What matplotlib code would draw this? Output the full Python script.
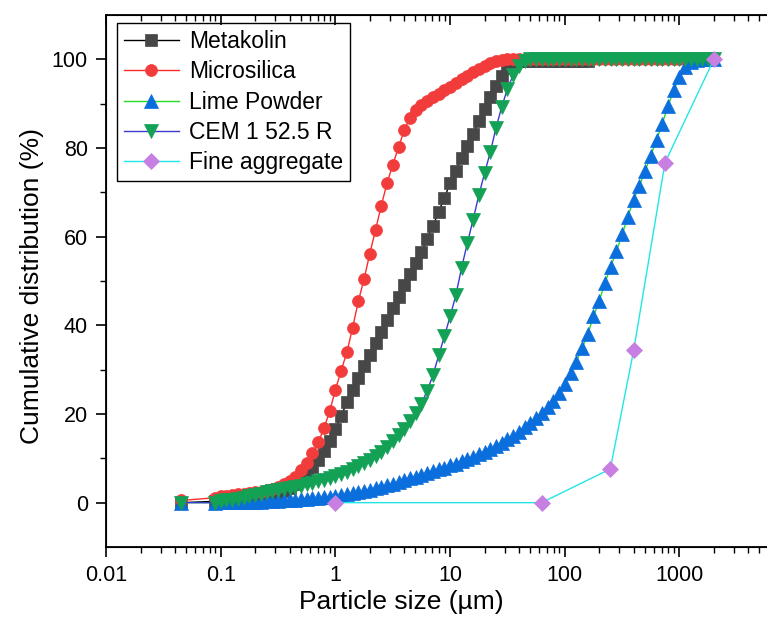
import matplotlib

matplotlib.use("Agg")
import matplotlib.pyplot as plt
from matplotlib.ticker import FixedLocator, LogLocator, NullFormatter

plt.rcParams["font.family"] = ["Liberation Sans", "DejaVu Sans"]

# size classes of the laser diffraction run (um), first one is the lone point
size_um = [0.045,
           0.089, 0.100, 0.112, 0.126, 0.142, 0.159, 0.178, 0.200, 0.224, 0.252,
           0.283, 0.317, 0.356, 0.399, 0.448, 0.502, 0.564, 0.632, 0.710, 0.796, 0.893,
           1.002, 1.125, 1.262, 1.416, 1.589, 1.783, 2.000, 2.244, 2.518, 2.825,
           3.170, 3.557, 3.991, 4.477, 5.024, 5.637, 6.325, 7.096, 7.962, 8.934,
           10.02, 11.25, 12.62, 14.16, 15.89, 17.83, 20.00, 22.44, 25.18, 28.25,
           31.70, 35.57, 39.91, 44.77, 50.24, 56.37, 63.25, 70.96, 79.62, 89.34,
           100.2, 112.5, 126.2, 141.6, 158.9, 178.3, 200.0, 224.4, 251.8, 282.5,
           317.0, 355.7, 399.1, 447.7, 502.4, 563.7, 632.5, 709.6, 796.2, 893.4,
           1002, 1125, 1262, 1416, 1589, 1783, 2000]

metakolin = [0.0,
             0.3, 0.4, 0.5, 0.6, 0.7, 0.8, 0.9, 1.0, 1.2, 1.4,
             1.7, 2.1, 2.6, 3.3, 4.2, 5.3, 6.6, 8.0, 9.6, 11.6, 14.0,
             16.6, 19.6, 22.6, 25.4, 28.1, 30.8, 33.4, 36.0, 38.6, 41.2,
             43.8, 46.4, 49.0, 51.6, 54.0, 56.6, 59.4, 62.4, 65.6, 68.8,
             72.0, 74.9, 77.7, 80.5, 83.2, 86.0, 88.8, 91.6, 94.0, 96.2,
             98.0, 99.2, 99.6, 99.6, 99.6, 99.6, 99.6, 99.6, 99.6, 99.6,
             99.6, 99.6, 99.6, 99.6, 99.6]

microsilica = [0.5,
               1.1, 1.4, 1.6, 1.8, 1.9, 2.0, 2.1, 2.3, 2.5, 2.8,
               3.1, 3.6, 4.2, 5.0, 5.9, 7.3, 8.9, 11.3, 13.6, 16.8, 20.6,
               25.5, 29.8, 34.0, 39.5, 45.5, 50.5, 56.2, 61.6, 67.0, 72.1,
               76.2, 80.2, 84.0, 86.8, 88.6, 89.7, 90.6, 91.4, 92.2, 93.0,
               93.8, 94.7, 95.5, 96.3, 97.1, 97.9, 98.6, 99.2, 99.6, 99.9,
               100, 100, 100, 100, 100, 100, 100, 100, 100, 100,
               100, 100, 100, 100, 100, 100, 100, 100, 100, 100,
               100, 100, 100, 100, 100, 100, 100, 100, 100, 100,
               100, 100, 100, 100, 100, 100, 100]

lime_powder = [0.0,
               0.0, 0.05, 0.07, 0.1, 0.12, 0.15, 0.18, 0.22, 0.26, 0.31,
               0.37, 0.43, 0.5, 0.57, 0.65, 0.75, 0.85, 0.95, 1.05, 1.2, 1.35,
               1.5, 1.7, 1.9, 2.1, 2.3, 2.6, 2.9, 3.2, 3.5, 3.9,
               4.3, 4.7, 5.1, 5.5, 5.9, 6.3, 6.7, 7.1, 7.5, 7.9,
               8.4, 8.8, 9.3, 9.8, 10.3, 10.9, 11.5, 12.1, 12.8, 13.5,
               14.3, 15.1, 16.0, 17.0, 18.0, 19.1, 20.3, 21.6, 23.0, 24.7,
               26.8, 29.2, 31.8, 34.8, 38.0, 42.0, 45.5, 49.5, 53.2, 56.7,
               60.5, 64.5, 68.3, 71.5, 74.8, 78.3, 81.8, 85.5, 89.5, 93.0,
               96.0, 98.2, 99.4, 99.9, 100, 100, 100]

cem = [0.0,
       0.0, 0.3, 0.5, 0.7, 0.9, 1.1, 1.4, 1.7, 2.0, 2.3,
       2.6, 2.9, 3.1, 3.3, 3.6, 3.8, 4.2, 4.5, 4.9, 5.2, 5.6,
       6.0, 6.5, 7.0, 7.6, 8.2, 8.9, 9.7, 10.5, 11.5, 12.6,
       13.9, 15.2, 16.7, 18.4, 20.2, 22.3, 25.3, 28.7, 33.2, 37.5,
       42.0, 46.8, 53.0, 58.5, 63.8, 69.3, 74.3, 79.0, 84.5, 89.3,
       93.3, 96.5, 98.5, 99.6, 100, 100, 100, 100, 100, 100,
       100, 100, 100, 100, 100, 100, 100, 100, 100, 100,
       100, 100, 100, 100, 100, 100, 100, 100, 100, 100,
       100, 100, 100, 100, 100, 100, 100]

fine_size = [1, 63, 250, 400, 750, 2000]
fine_aggregate = [0.0, 0.0, 7.6, 34.4, 76.7, 100.0]

series = [
    ("Metakolin", size_um[:len(metakolin)], metakolin, "s", "black", "#474747", 8.0),
    ("Microsilica", size_um, microsilica, "o", "#ff2a2a", "#f23c3c", 8.6),
    ("Lime Powder", size_um, lime_powder, "^", "#22dd22", "#0a6edc", 10.0),
    ("CEM 1 52.5 R", size_um, cem, "v", "#3a3ad0", "#13a155", 10.0),
    ("Fine aggregate", fine_size, fine_aggregate, "D", "#22e6e6", "#c77fe2", 8.0),
]

fig = plt.figure(figsize=(7.67, 6.28), dpi=100)
# axes run past the right edge, as in the original export
ax = fig.add_axes([106 / 767, 81 / 628, 688 / 767, 532 / 628])

for name, x, y, mk, lc, mc, ms in series:
    ax.plot(x, y, color=lc, lw=1.0, marker=mk, ms=ms, mfc=mc, mec=mc,
            mew=0.5, label=name)

ax.set_xscale("log")
ax.set_xlim(0.01, 10000)
ax.set_ylim(-10, 110)
ax.yaxis.set_major_locator(FixedLocator([0, 20, 40, 60, 80, 100]))
ax.yaxis.set_minor_locator(FixedLocator([10, 30, 50, 70, 90]))
ax.xaxis.set_minor_locator(LogLocator(base=10, subs=range(2, 10), numticks=20))
ax.xaxis.set_minor_formatter(NullFormatter())
ax.set_xticks([0.01, 0.1, 1, 10, 100, 1000])
ax.set_xticklabels(["0.01", "0.1", "1", "10", "100", "1000"])

for s in ax.spines.values():
    s.set_linewidth(1.3)
ax.spines["right"].set_visible(False)
ax.tick_params(axis="both", which="major", direction="out", length=7, width=1.2,
               labelsize=15.5, pad=6)
ax.tick_params(axis="both", which="minor", direction="out", length=4, width=1.0)

# top axis: ticks pointing inward, no labels
top = ax.twiny()
top.set_xscale("log")
top.set_xlim(ax.get_xlim())
top.xaxis.set_minor_locator(LogLocator(base=10, subs=range(2, 10), numticks=20))
top.xaxis.set_major_formatter(NullFormatter())
top.xaxis.set_minor_formatter(NullFormatter())
top.tick_params(axis="x", which="major", direction="in", length=7, width=1.2)
top.tick_params(axis="x", which="minor", direction="in", length=4, width=1.0)
top.spines["right"].set_visible(False)

ax.set_xlabel("Particle size (\u00b5m)", fontsize=19)
ax.set_ylabel("Cumulative distribution (%)", fontsize=19)
ax.xaxis.set_label_coords(0.429, -0.08)
ax.yaxis.set_label_coords(-0.09, 0.49)

leg = ax.legend(loc="upper left", bbox_to_anchor=(0.016, 0.985), fontsize=16.5,
                frameon=True, fancybox=False, edgecolor="black", framealpha=1,
                handlelength=2.4, labelspacing=0.32, borderpad=0.3,
                handletextpad=0.45, borderaxespad=0)
leg.get_frame().set_linewidth(1.0)

fig.savefig("out.png", dpi=100)
